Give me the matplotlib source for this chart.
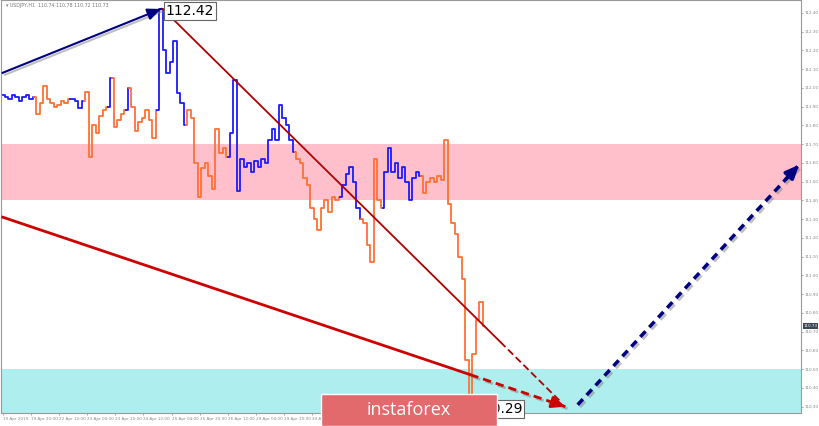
import numpy as np
import matplotlib
matplotlib.use("Agg")
from matplotlib import pyplot as plt
from matplotlib import patheffects as pe
from matplotlib.patches import Rectangle
import matplotlib.transforms as mtransforms

# USDJPY H1 closes, one value every 2 bars
close = [111.96, 111.95, 111.94, 111.96, 111.95, 111.93, 111.95, 111.96, 111.94, 111.95,
         111.86, 111.92, 112.01, 111.94, 111.92, 111.90, 111.91, 111.93, 111.92, 111.94,
         111.94, 111.93, 111.89, 111.93,
         111.98, 111.63, 111.80, 111.76, 111.85, 111.88, 111.90, 112.05, 111.79, 111.83,
         111.86, 111.88, 112.00, 111.90, 111.77, 111.82, 111.84, 111.88, 111.83, 111.73,
         111.88, 112.42,
         112.20, 112.08, 112.14, 112.25, 111.97, 111.92, 111.80,
         111.88, 111.84, 111.60, 111.42, 111.57, 111.60, 111.53, 111.46, 111.78, 111.65,
         111.68, 111.63,
         111.76, 112.04, 111.45, 111.62, 111.58, 111.60, 111.55, 111.61, 111.58, 111.62,
         111.60, 111.72, 111.78, 111.72, 111.91, 111.84, 111.80, 111.72, 111.66,
         111.62, 111.60, 111.52, 111.48, 111.36, 111.30, 111.24, 111.36, 111.40, 111.34,
         111.42, 111.40, 111.42,
         111.48, 111.54, 111.58, 111.50, 111.36, 111.30,
         111.28, 111.16, 111.07, 111.62, 111.40, 111.36,
         111.55, 111.68, 111.55, 111.60, 111.52, 111.58, 111.50, 111.40, 111.52, 111.55,
         111.53,
         111.44, 111.50, 111.52, 111.50, 111.53, 111.51, 111.72, 111.38, 111.28, 111.22,
         111.10, 110.98, 110.55, 110.29, 110.58, 110.76, 110.86, 110.73]
blue_runs = [(0, 9), (20, 23), (31, 31), (36, 36), (45, 52), (65, 83), (97, 102), (109, 119)]

tick_bars = [0, 16, 32, 48, 64, 80, 96, 112, 128, 144, 160, 176]
tick_labels = ["19 Apr 2019", "19 Apr 20:00", "22 Apr 12:00", "23 Apr 04:00", "23 Apr 20:00",
               "24 Apr 12:00", "25 Apr 04:00", "25 Apr 20:00", "26 Apr 12:00", "29 Apr 04:00",
               "29 Apr 20:00", "30 Apr 12:00"]

sell_zone = (111.40, 111.70)
buy_zone = 110.50

# wave lines: (bar, price) points
wave_up = [(0, 112.08), (90, 112.42)]
trend_thin = [(91, 112.42), (283, 110.645), (318, 110.32)]
trend_thick = [(0, 111.31), (266, 110.47), (320, 110.30)]
forecast_up = [(327, 110.31), (453, 111.59)]

x = np.arange(len(close)) * 2
close = np.array(close)
is_blue = np.zeros(len(close), bool)
for s, e in blue_runs:
    is_blue[s:e + 1] = True

fig = plt.figure(figsize=(8.2, 4.26), dpi=100)
ax = fig.add_axes([0.0012, 0.0305, 0.9756, 0.9695])
ax.set_xlim(-1, 454)
ax.set_ylim(110.266, 112.468)

ax.axhspan(sell_zone[0], sell_zone[1], color="#ffc0cb", lw=0, zorder=0)
ax.axhspan(110.0, buy_zone, color="#afeeee", lw=0, zorder=0)

# price line, coloured by wave
start = 0
for i in range(1, len(close) + 1):
    if i == len(close) or is_blue[i] != is_blue[start]:
        s = max(start - 1, 0)
        col = "#1a1aff" if is_blue[start] else "#ff7033"
        ax.plot(x[s:i], close[s:i], drawstyle="steps-mid", color=col, lw=1.3, zorder=3)
        start = i

shadow = [pe.SimpleLineShadow(offset=(1.5, -1.5), shadow_color="gray", alpha=0.5), pe.Normal()]


def arrow_head(p0, p1, color, lw):
    x0, y0 = p0
    x1, y1 = p1
    ax.annotate("", xy=(x1, y1), xytext=(x1 - (x1 - x0) * 0.06, y1 - (y1 - y0) * 0.06),
                arrowprops=dict(arrowstyle="-|>,head_length=0.8,head_width=0.35",
                                color=color, lw=lw, shrinkA=0, shrinkB=0), zorder=6)


# navy wave up to the top
ax.plot([wave_up[0][0], wave_up[1][0]], [wave_up[0][1], wave_up[1][1]],
        color="#000080", lw=1.5, zorder=5, path_effects=shadow)
arrow_head(wave_up[0], wave_up[1], "#000080", 1.5)

# thin dark red line
ax.plot([p[0] for p in trend_thin[:2]], [p[1] for p in trend_thin[:2]],
        color="#b00000", lw=1.3, zorder=5)
ax.plot([p[0] for p in trend_thin[1:]], [p[1] for p in trend_thin[1:]],
        color="#b00000", lw=1.3, ls=(0, (4, 2)), zorder=5)

# thick red line
ax.plot([p[0] for p in trend_thick[:2]], [p[1] for p in trend_thick[:2]],
        color="#cc0000", lw=2, zorder=5)
ax.plot([p[0] for p in trend_thick[1:]], [p[1] for p in trend_thick[1:]],
        color="#cc0000", lw=2, ls=(0, (3, 1.8)), zorder=5, path_effects=shadow)
arrow_head(trend_thick[1], trend_thick[2], "#cc0000", 2)

# navy forecast
ax.plot([p[0] for p in forecast_up], [p[1] for p in forecast_up],
        color="#000080", lw=2.5, ls=(0, (2.2, 1.6)), zorder=5, path_effects=shadow)
arrow_head(forecast_up[0], forecast_up[1], "#000080", 2.5)

# labels
ax.text(92.6, 112.41, "112.42", fontsize=10, ha="left", va="center", zorder=7,
        bbox=dict(boxstyle="square,pad=0.12", fc="white", ec="#666666", lw=0.8))
ax.text(295.8, 110.287, "110.29", fontsize=10, ha="right", va="center", zorder=7,
        bbox=dict(boxstyle="square,pad=0.12", fc="white", ec="#666666", lw=0.8))
ax.text(0.006, 0.993, "\u25be USDJPY,H1  110.74 110.78 110.72 110.73", transform=ax.transAxes,
        fontsize=3.4, color="#777777", ha="left", va="top")

# axes styling
for sp in ax.spines.values():
    sp.set_color("#999999")
    sp.set_linewidth(0.8)
ax.yaxis.tick_right()
yt = np.round(np.arange(110.30, 112.41, 0.10), 2)
ax.set_yticks(yt)
ax.set_yticklabels([f"{v:.2f}" for v in yt])
ax.tick_params(axis="y", labelsize=3.0, colors="#888888", length=1.5, pad=1.2, width=0.5)
ax.set_xticks(tick_bars)
ax.set_xticklabels(tick_labels, ha="left")
ax.tick_params(axis="x", labelsize=3.0, colors="#888888", length=1.5, pad=1.5, width=0.5)

trans = mtransforms.blended_transform_factory(ax.transAxes, ax.transData)
ax.text(1.003, 110.73, "110.73", transform=trans, fontsize=3.0, color="white",
        ha="left", va="center", zorder=8, clip_on=False,
        bbox=dict(boxstyle="square,pad=0.15", fc="#3c4655", ec="none"))

# logo
fig.patches.append(Rectangle((321 / 820, 0), 176 / 820, 32 / 426, transform=fig.transFigure,
                             fc="#e2696c", ec="white", lw=1, zorder=20))
fig.text(409 / 820, 16 / 426, "instaforex", fontsize=13, color="white", ha="center",
         va="center", zorder=21, family="Open Sans")

plt.savefig("out.png", dpi=100)
